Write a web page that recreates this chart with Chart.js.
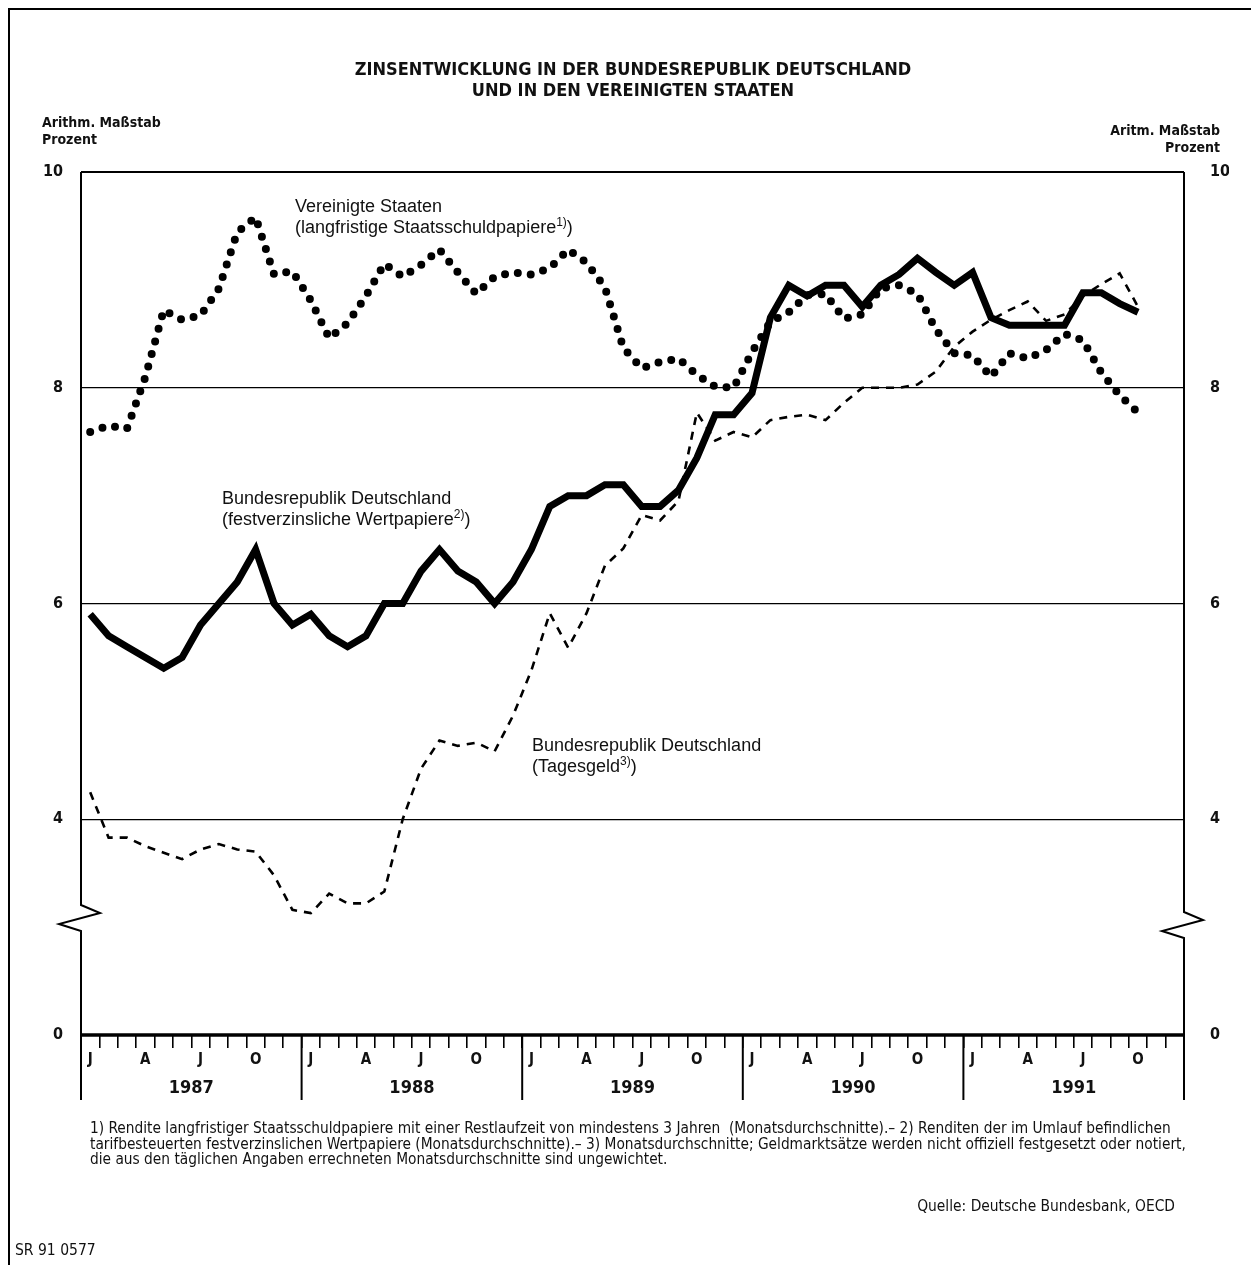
<!DOCTYPE html>
<html>
<head>
<meta charset="utf-8">
<script src="https://cdn.jsdelivr.net/npm/chart.js@4.4.0/dist/chart.umd.min.js"></script>
<style>
  body { margin: 0; background: #fff; }
  #page { position: relative; width: 1251px; height: 1265px; overflow: hidden; background: #fff; }
  #frame { position: absolute; left: 8px; top: 8px; width: 1260px; height: 1270px; border-left: 2px solid #000; border-top: 2px solid #000; }
  canvas { position: absolute; left: 0; top: 0; }
  .t { position: absolute; color: #111; white-space: nowrap; font-family: "Liberation Sans Narrow", "DejaVu Sans Condensed", "Arial Narrow", sans-serif; }
  .lbl { font-family: "Liberation Sans", Arial, sans-serif; font-size: 18px; line-height: 21px; }
  sup { font-size: 12px; vertical-align: 7px; line-height: 0; }
  #title { left: 0; width: 1266px; top: 58px; text-align: center; font-weight: bold; font-size: 18px; line-height: 21px; }
  .cap { font-size: 14px; font-weight: bold; line-height: 17px; }
  #foot { left: 90px; top: 1121px; font-size: 15.3px; line-height: 15.7px; }
</style>
</head>
<body>
<div id="page">
  <div id="frame"></div>
  <canvas id="chart" width="1251" height="1265"></canvas>

  <div class="t" id="title">ZINSENTWICKLUNG IN DER BUNDESREPUBLIK DEUTSCHLAND<br>UND IN DEN VEREINIGTEN STAATEN</div>

  <div class="t cap" style="left:42px; top:114px;">Arithm. Maßstab<br>Prozent</div>
  <div class="t cap" style="right:31px; top:122px; text-align:right;">Aritm. Maßstab<br>Prozent</div>

  <div class="t lbl" style="left:295px; top:196px;">Vereinigte Staaten<br>(langfristige Staatsschuldpapiere<sup>1)</sup>)</div>
  <div class="t lbl" style="left:222px; top:488px;">Bundesrepublik Deutschland<br>(festverzinsliche Wertpapiere<sup>2)</sup>)</div>
  <div class="t lbl" style="left:532px; top:735px;">Bundesrepublik Deutschland<br>(Tagesgeld<sup>3)</sup>)</div>

  <div class="t" id="foot">1) Rendite langfristiger Staatsschuldpapiere mit einer Restlaufzeit von mindestens 3 Jahren&nbsp; (Monatsdurchschnitte).– 2) Renditen der im Umlauf befindlichen<br>tarifbesteuerten festverzinslichen Wertpapiere (Monatsdurchschnitte).– 3) Monatsdurchschnitte; Geldmarktsätze werden nicht offiziell festgesetzt oder notiert,<br>die aus den täglichen Angaben errechneten Monatsdurchschnitte sind ungewichtet.</div>

  <div class="t" style="right:76px; top:1197px; font-size:15.4px;">Quelle: Deutsche Bundesbank, OECD</div>
  <div class="t" style="left:15px; top:1241px; font-size:15.5px;">SR 91 0577</div>
</div>

<script>
// years and month tick letters on the time axis
const years = [1987, 1988, 1989, 1990, 1991];
const monthTicks = ['J', '', '', 'A', '', '', 'J', '', '', 'O', '', ''];

// y axis ticks (the 2-position is shown as 0 because of the axis break)
const yTicks = [2, 4, 6, 8, 10];
const yTickText = ['0', '4', '6', '8', '10'];

// Bundesrepublik Deutschland, festverzinsliche Wertpapiere (Jan 1987 - Okt 1991)
const bondDE = [5.9, 5.7, 5.6, 5.5, 5.4, 5.5, 5.8, 6.0, 6.2, 6.5, 6.0, 5.8,
  5.9, 5.7, 5.6, 5.7, 6.0, 6.0, 6.3, 6.5, 6.3, 6.2, 6.0, 6.2,
  6.5, 6.9, 7.0, 7.0, 7.1, 7.1, 6.9, 6.9, 7.05, 7.35, 7.75, 7.75,
  7.95, 8.65, 8.95, 8.85, 8.95, 8.95, 8.75, 8.95, 9.05, 9.2, 9.07, 8.95,
  9.07, 8.65, 8.58, 8.58, 8.58, 8.58, 8.88, 8.88, 8.78, 8.7];

// Vereinigte Staaten, langfristige Staatsschuldpapiere
const bondUS = [7.59, 7.65, 7.62, 8.1, 8.72, 8.63, 8.67, 8.92, 9.44, 9.58, 9.05, 9.08,
  8.81, 8.46, 8.6, 8.85, 9.15, 9.03, 9.14, 9.28, 9.07, 8.87, 9.03, 9.07,
  9.05, 9.11, 9.28, 9.16, 8.93, 8.37, 8.18, 8.24, 8.27, 8.12, 8.01, 8.0,
  8.33, 8.61, 8.7, 8.86, 8.87, 8.64, 8.68, 8.92, 8.95, 8.87, 8.54, 8.32,
  8.3, 8.1, 8.32, 8.27, 8.35, 8.5, 8.44, 8.14, 7.93, 7.77];

// Bundesrepublik Deutschland, Tagesgeld
const dailyDE = [4.25, 3.83, 3.83, 3.75, 3.69, 3.63, 3.72, 3.77, 3.72, 3.7, 3.48, 3.16,
  3.13, 3.31, 3.22, 3.22, 3.33, 4.0, 4.47, 4.73, 4.68, 4.71, 4.63, 4.96,
  5.38, 5.91, 5.59, 5.91, 6.35, 6.51, 6.82, 6.77, 6.95, 7.77, 7.51, 7.59,
  7.54, 7.7, 7.73, 7.75, 7.7, 7.86, 8.0, 8.0, 8.0, 8.03, 8.15, 8.38,
  8.52, 8.63, 8.72, 8.8, 8.62, 8.68, 8.85, 8.96, 9.06, 8.75];

const labels = [];
years.forEach(y => { for (let m = 0; m < 12; m++) labels.push(y + '-' + (m + 1)); });

const narrow = '"Liberation Sans Narrow", "DejaVu Sans Condensed", "Arial Narrow", sans-serif';

// frame with axis breaks, x axis, year dividers
const frame = {
  id: 'frame',
  afterDraw(chart) {
    const ctx = chart.ctx;
    const x = chart.scales.x, y = chart.scales.y;
    const L = x.left, R = x.right, T = y.top, B = y.bottom;
    ctx.save();
    ctx.strokeStyle = '#000';
    ctx.lineJoin = 'miter';

    // top border
    ctx.lineWidth = 2;
    ctx.beginPath(); ctx.moveTo(L, T); ctx.lineTo(R, T); ctx.stroke();

    // left and right borders with a break
    const brk = (bx, by) => {
      ctx.beginPath();
      ctx.moveTo(bx, T);
      ctx.lineTo(bx, by);
      ctx.lineTo(bx + 19, by + 8);
      ctx.lineTo(bx - 22, by + 19);
      ctx.lineTo(bx, by + 26);
      ctx.lineTo(bx, B + 65);
      ctx.stroke();
    };
    brk(L, 905);
    brk(R, 912);

    // x axis line
    ctx.lineWidth = 3.5;
    ctx.beginPath(); ctx.moveTo(L, B); ctx.lineTo(R, B); ctx.stroke();

    // year dividers and year labels
    ctx.lineWidth = 2;
    ctx.fillStyle = '#111';
    ctx.font = 'bold 18px ' + narrow;
    ctx.textAlign = 'center';
    ctx.textBaseline = 'middle';
    years.forEach((yr, i) => {
      const bx = x.getPixelForValue(i * 12 - 0.5);
      if (i > 0) { ctx.beginPath(); ctx.moveTo(bx, B); ctx.lineTo(bx, B + 65); ctx.stroke(); }
      ctx.fillText(String(yr), x.getPixelForValue(i * 12 + 5.5), B + 53);
    });
    ctx.restore();
  }
};

new Chart(document.getElementById('chart'), {
  type: 'line',
  data: {
    labels: labels,
    datasets: [
      {
        label: 'Vereinigte Staaten',
        data: bondUS,
        borderColor: '#000',
        borderWidth: 8,
        borderDash: [0, 13],
        borderCapStyle: 'round',
        pointRadius: 0,
        tension: 0
      },
      {
        label: 'Bundesrepublik Deutschland (Tagesgeld)',
        data: dailyDE,
        borderColor: '#000',
        borderWidth: 2.6,
        borderDash: [8, 7],
        pointRadius: 0,
        tension: 0
      },
      {
        label: 'Bundesrepublik Deutschland (festverzinsliche Wertpapiere)',
        data: bondDE,
        borderColor: '#000',
        borderWidth: 7,
        borderJoinStyle: 'miter',
        pointRadius: 0,
        tension: 0
      }
    ]
  },
  options: {
    responsive: false,
    animation: false,
    layout: { padding: { left: 36, right: 22, top: 172, bottom: 170 } },
    plugins: { legend: { display: false }, tooltip: { enabled: false } },
    scales: {
      x: {
        type: 'category',
        offset: true,
        afterFit: s => { s.height = 60; },
        border: { display: false },
        grid: { offset: true, drawOnChartArea: false, tickLength: 13, color: '#000', lineWidth: 1.6 },
        ticks: {
          autoSkip: false, maxRotation: 0, padding: 3, color: '#111',
          font: { family: narrow, size: 15, weight: 'bold' },
          callback: (v, i) => monthTicks[i % 12]
        }
      },
      y: {
        min: 2, max: 10,
        afterFit: s => { s.width = 45; },
        afterBuildTicks: s => { s.ticks = yTicks.map(v => ({ value: v })); },
        border: { display: false },
        grid: {
          drawTicks: false, color: '#000',
          lineWidth: c => (c.tick && (c.tick.value === 2 || c.tick.value === 10)) ? 0 : 1.3
        },
        ticks: {
          padding: 18, color: '#111',
          font: { family: narrow, size: 16, weight: 'bold' },
          callback: v => yTickText[yTicks.indexOf(v)]
        }
      },
      y2: {
        position: 'right',
        min: 2, max: 10,
        afterFit: s => { s.width = 45; },
        afterBuildTicks: s => { s.ticks = yTicks.map(v => ({ value: v })); },
        border: { display: false },
        grid: { display: false },
        ticks: {
          padding: 18, color: '#111',
          font: { family: narrow, size: 16, weight: 'bold' },
          callback: v => yTickText[yTicks.indexOf(v)]
        }
      }
    }
  },
  plugins: [frame]
});
</script>
</body>
</html>
